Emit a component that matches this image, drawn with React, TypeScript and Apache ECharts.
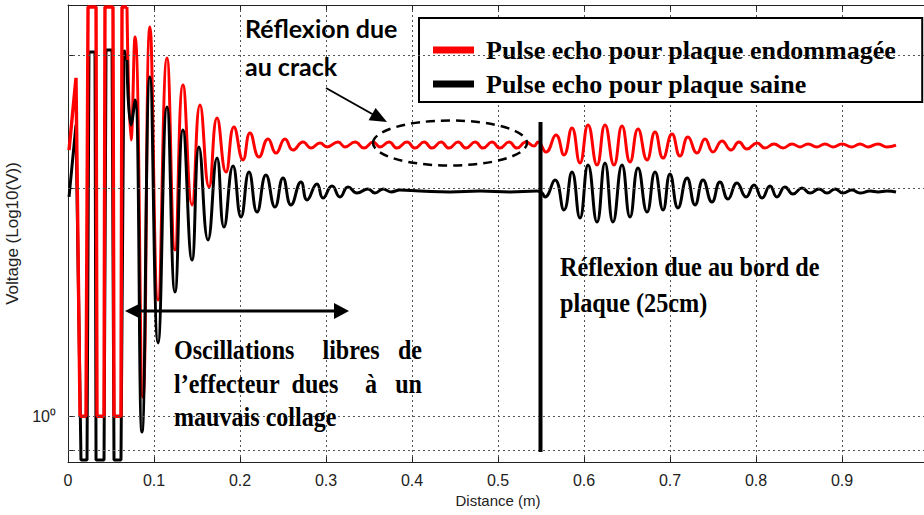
import React, { useEffect, useRef } from 'react';
import * as echarts from 'echarts';

// ---- data (x: distance in m, y: log10 voltage) ----
const seriesNames = ['Pulse echo pour plaque endommagée', 'Pulse echo pour plaque saine'];

const redSaturated: number[][] = [
  [0.0012, 1.165], [0.0093, 1.481], [0.014, 0], [0.0209, 0], [0.0233, 1.791], [0.0326, 1.791],
  [0.0337, 0], [0.0419, 0], [0.043, 1.791], [0.0523, 1.791], [0.0535, 0], [0.0616, 0],
  [0.0628, 1.791], [0.0686, 1.791],
];
const redDecay: number[][] = [
  [0.0686, 1.791], [0.0733, 1.209], [0.0779, 1.66], [0.0872, 0.084], [0.0953, 1.704], [0.1047, 0.509],
  [0.1151, 1.568], [0.1244, 0.728], [0.1337, 1.45], [0.1442, 0.925], [0.1535, 1.362], [0.164, 1.004],
  [0.1733, 1.305], [0.1837, 1.069], [0.193, 1.266], [0.2035, 1.122], [0.2116, 1.24], [0.2221, 1.135],
  [0.2326, 1.214], [0.2419, 1.152], [0.2523, 1.214], [0.2616, 1.165], [0.2733, 1.2], [0.2826, 1.174],
  [0.293, 1.196], [0.3012, 1.179], [0.314, 1.2], [0.3221, 1.179], [0.3337, 1.2], [0.3442, 1.174],
  [0.3547, 1.2], [0.3628, 1.179], [0.3733, 1.2], [0.3826, 1.174], [0.3942, 1.2], [0.4035, 1.174],
  [0.414, 1.2], [0.4233, 1.174], [0.4337, 1.2], [0.443, 1.174], [0.4535, 1.2], [0.4628, 1.174],
  [0.4733, 1.2], [0.4826, 1.174], [0.493, 1.2], [0.5023, 1.174], [0.5128, 1.2], [0.5221, 1.174],
  [0.5326, 1.2], [0.5419, 1.183], [0.5465, 1.2], [0.5558, 1.157], [0.5674, 1.231], [0.5767, 1.144],
  [0.586, 1.262], [0.5953, 1.109], [0.6047, 1.275], [0.6151, 1.1], [0.6244, 1.275], [0.6349, 1.1],
  [0.6442, 1.27], [0.6535, 1.113], [0.6628, 1.257], [0.6733, 1.122], [0.6826, 1.244], [0.6919, 1.13],
  [0.7023, 1.235], [0.7116, 1.139], [0.7209, 1.222], [0.7314, 1.152], [0.7407, 1.214], [0.75, 1.157],
  [0.7605, 1.205], [0.7709, 1.165], [0.7802, 1.2], [0.7895, 1.17], [0.8012, 1.196], [0.8105, 1.174],
  [0.8209, 1.192], [0.8314, 1.174], [0.8419, 1.192], [0.8512, 1.179], [0.8605, 1.192], [0.8709, 1.179],
  [0.8802, 1.192], [0.8895, 1.179], [0.9, 1.192], [0.9116, 1.179], [0.9209, 1.192], [0.9302, 1.179],
  [0.9419, 1.192], [0.9523, 1.179], [0.9628, 1.187],
];
const blackSaturated: number[][] = [
  [0.0012, 0.96], [0.0093, 1.275], [0.0151, -0.191], [0.0221, -0.191], [0.0244, 1.594], [0.0314, 1.594],
  [0.0326, -0.191], [0.0419, -0.191], [0.0442, 1.603], [0.0512, 1.603], [0.0535, -0.191], [0.0616, -0.191],
  [0.0651, 1.603], [0.0686, 1.559],
];
const blackDecay: number[][] = [
  [0.0686, 1.559], [0.0733, 1.275], [0.0779, 1.384], [0.086, -0.069], [0.0953, 1.485], [0.1047, 0.321],
  [0.1151, 1.354], [0.1244, 0.544], [0.1337, 1.253], [0.1442, 0.684], [0.1523, 1.179], [0.1628, 0.772],
  [0.1733, 1.13], [0.1814, 0.828], [0.1919, 1.095], [0.2012, 0.872], [0.2105, 1.069], [0.2198, 0.894],
  [0.2302, 1.056], [0.2407, 0.916], [0.25, 1.043], [0.2593, 0.925], [0.2709, 1.025], [0.2779, 0.947],
  [0.2895, 1.017], [0.2965, 0.955], [0.307, 1.008], [0.3163, 0.96], [0.3256, 1.004], [0.336, 0.977],
  [0.3488, 0.995], [0.357, 0.977], [0.3663, 0.995], [0.3756, 0.982], [0.386, 0.99], [0.4093, 0.986],
  [0.4442, 0.982], [0.4791, 0.986], [0.514, 0.982], [0.5453, 0.986], [0.5512, 0.977], [0.5547, 0.96],
  [0.5663, 1.034], [0.5767, 0.903], [0.586, 1.069], [0.5953, 0.868], [0.6047, 1.1], [0.6151, 0.85],
  [0.6244, 1.109], [0.6337, 0.85], [0.6442, 1.1], [0.6535, 0.872], [0.6628, 1.087], [0.6733, 0.894],
  [0.6826, 1.069], [0.6919, 0.903], [0.7, 1.06], [0.7093, 0.912], [0.7198, 1.043], [0.7291, 0.925],
  [0.7384, 1.034], [0.7488, 0.938], [0.7581, 1.025], [0.7674, 0.951], [0.7779, 1.021], [0.7884, 0.96],
  [0.7977, 1.012], [0.807, 0.955], [0.8163, 1.008], [0.8244, 0.96], [0.8337, 1.004], [0.843, 0.973],
  [0.8535, 0.999], [0.8628, 0.977], [0.8733, 0.995], [0.8826, 0.977], [0.8919, 0.995], [0.9012, 0.977],
  [0.9116, 0.99], [0.9209, 0.977], [0.9326, 0.986], [0.9419, 0.982], [0.9523, 0.986], [0.9628, 0.982],
];
const yGridLevels = [-0.15, 0, 1, 1.58];
const yLabelLevels = [0];
const yUnitLabel = '10⁰';

const SANS = "'Liberation Sans', Arial, sans-serif";
const SERIF_BOLD = 'bold 28px "Liberation Serif", "Times New Roman", serif';
const CAL_BOLD = 'bold 25px Lato, "Open Sans", sans-serif';

function txt(text: string, x: number, y: number, font: string, sx = 1, align = 'left') {
  return {
    type: 'text', x, y, scaleX: sx, z: 100,
    style: { text, font, fill: '#000', align, verticalAlign: 'middle' },
  };
}

export default function App() {
  const ref = useRef<HTMLDivElement>(null);
  useEffect(() => {
    const chart = echarts.init(ref.current!, undefined, { renderer: 'svg' });
    const axisLineStyle = { color: '#222', width: 1 };
    const red = '#ff0000';
    const black = '#000000';
    const option: any = {
      animation: false,
      backgroundColor: '#ffffff',
      grid: { left: 68, right: -4, top: 5, bottom: 53, outerBoundsMode: 'none' },
      legend: {
        data: seriesNames, orient: 'vertical', left: 419, top: 18,
        padding: [17, 26, 3, 14], itemGap: 4, itemWidth: 41, itemHeight: 7, icon: 'rect',
        selectedMode: false, backgroundColor: '#ffffff', borderColor: '#000', borderWidth: 2, borderRadius: 0,
        textStyle: { fontFamily: '"Liberation Serif", "Times New Roman", serif', fontWeight: 'bold', fontSize: 26, color: '#000', lineHeight: 30, padding: [0, 0, 0, 7] },
        z: 5,
      },
      xAxis: [
        {
          type: 'value', min: 0, max: 1, interval: 0.1, position: 'bottom',
          name: 'Distance (m)', nameLocation: 'middle', nameGap: 30,
          nameTextStyle: { fontFamily: SANS, fontSize: 15, color: '#222' },
          axisLine: { show: true, onZero: false, lineStyle: axisLineStyle },
          axisTick: { show: true, inside: true, length: 5, lineStyle: axisLineStyle },
          axisLabel: { showMaxLabel: false, margin: 10, fontFamily: SANS, fontSize: 16, color: '#222' },
          splitLine: { show: true, lineStyle: { color: '#555', type: [2, 3], width: 1 } },
        },
        {
          type: 'value', min: 0, max: 1, interval: 0.1, position: 'top',
          axisLine: { show: true, onZero: false, lineStyle: axisLineStyle },
          axisTick: { show: true, inside: true, length: 5, lineStyle: axisLineStyle },
          axisLabel: { show: false }, splitLine: { show: false },
        },
      ],
      yAxis: {
        type: 'value', min: -0.2, max: 1.8,
        name: 'Voltage (Log10(V))', nameLocation: 'middle', nameGap: 40,
        nameTextStyle: { fontFamily: SANS, fontSize: 17, color: '#222' },
        axisLine: { show: true, onZero: false, lineStyle: axisLineStyle },
        axisTick: { show: true, inside: true, length: 5, lineStyle: axisLineStyle, customValues: yGridLevels },
        axisLabel: { customValues: yLabelLevels, formatter: () => yUnitLabel, margin: 12, fontFamily: SANS, fontSize: 16, color: '#222' },
        splitLine: { show: false },
      },
      series: [
        {
          name: 'grid', type: 'line', data: [], z: 1, silent: true,
          markLine: {
            silent: true, symbol: ['none', 'none'], label: { show: false }, animation: false,
            lineStyle: { color: '#555', type: [2, 3], width: 1 },
            data: yGridLevels.map((v) => ({ yAxis: v })),
          },
        },
        { name: seriesNames[1], type: 'line', data: blackSaturated, showSymbol: false, smooth: false, lineStyle: { color: black, width: 3 }, itemStyle: { color: black }, z: 2 },
        { name: seriesNames[0], type: 'line', data: redSaturated, showSymbol: false, smooth: false, lineStyle: { color: red, width: 3.4 }, itemStyle: { color: red }, z: 3 },
        { name: seriesNames[0], type: 'line', data: redDecay, showSymbol: false, smooth: 0.5, lineStyle: { color: red, width: 3 }, itemStyle: { color: red }, z: 3 },
        { name: seriesNames[1], type: 'line', data: blackDecay, showSymbol: false, smooth: 0.5, lineStyle: { color: black, width: 3 }, itemStyle: { color: black }, z: 4 },
      ],
      graphic: [
        txt('Réflexion due', 245, 28, CAL_BOLD),
        txt('au crack', 245, 66, CAL_BOLD),
        { type: 'line', z: 100, shape: { x1: 326, y1: 88, x2: 374, y2: 115 }, style: { stroke: '#000', lineWidth: 2 } },
        { type: 'polygon', z: 100, shape: { points: [[387, 122], [368.6, 120.2], [375.6, 108]] }, style: { fill: '#000' } },
        { type: 'ellipse', z: 100, shape: { cx: 450, cy: 143, rx: 77, ry: 22.5 }, style: { fill: 'none', stroke: '#000', lineWidth: 2.5, lineDash: [9, 6] } },
        { type: 'line', z: 100, shape: { x1: 140, y1: 311, x2: 335, y2: 311 }, style: { stroke: '#000', lineWidth: 3 } },
        { type: 'polygon', z: 100, shape: { points: [[125, 311], [141, 303], [141, 319]] }, style: { fill: '#000' } },
        { type: 'polygon', z: 100, shape: { points: [[349, 311], [334, 303], [334, 319]] }, style: { fill: '#000' } },
        { type: 'line', z: 100, shape: { x1: 540.5, y1: 122, x2: 540.5, y2: 452 }, style: { stroke: '#000', lineWidth: 4 } },
        txt('Oscillations', 174, 350, SERIF_BOLD, 0.86),
        txt('libres', 351, 350, SERIF_BOLD, 0.86, 'center'),
        txt('de', 422, 350, SERIF_BOLD, 0.86, 'right'),
        txt('l’effecteur', 174, 384, SERIF_BOLD, 0.86),
        txt('dues', 315, 384, SERIF_BOLD, 0.86, 'center'),
        txt('à', 371, 384, SERIF_BOLD, 0.86, 'center'),
        txt('un', 422, 384, SERIF_BOLD, 0.86, 'right'),
        txt('mauvais collage', 174, 417, SERIF_BOLD, 0.86),
        txt('Réflexion due au bord de', 560, 267, SERIF_BOLD, 0.865),
        txt('plaque (25cm)', 560, 303, SERIF_BOLD, 0.865),
      ],
    };
    chart.setOption(option);
    return () => chart.dispose();
  }, []);
  return <div ref={ref} style={{ position: 'fixed', left: 0, top: 0, width: 924, height: 515, background: '#fff' }} />;
}
